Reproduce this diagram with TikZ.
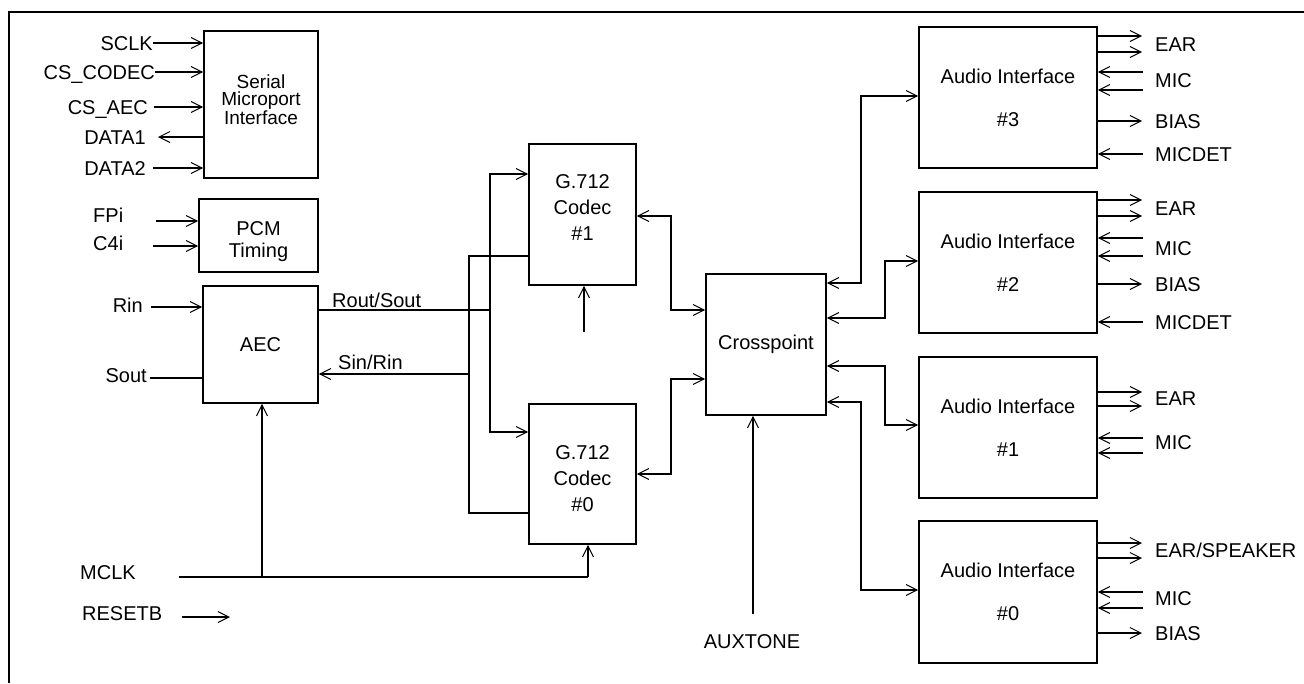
\documentclass[tikz,border=0pt]{standalone}
\usepackage{fontspec}
\setmainfont{Liberation Sans}
\usetikzlibrary{arrows.meta}
\begin{document}
\begin{tikzpicture}[x=1pt,y=-1pt,
  box/.style={draw,line width=1.6pt,inner sep=0pt,align=center},
  intext/.style={inner sep=0pt,align=center},
  lbl/.style={inner sep=0pt,text height=14pt,text depth=0pt,font=\fontsize{20}{24}\selectfont},
  wire/.style={line width=1.5pt},
  arr/.style={wire,-{Straight Barb[length=11pt,width=11pt,line width=1pt]}},
  arrb/.style={wire,{Straight Barb[length=11pt,width=11pt,line width=1pt]}-{Straight Barb[length=11pt,width=11pt,line width=1pt]}}]
\useasboundingbox (0,0) rectangle (1304,683);
\fill[white] (0,0) rectangle (1304,683);
\draw[line width=1.7pt] (9,683) -- (9,12) -- (1304,12);

% blocks
\node[box,minimum width=114pt,minimum height=147pt,
  label={[intext,font=\fontsize{19}{17}\selectfont,yshift=5pt]center:{Serial\\Microport\\Interface}}] (ser) at (261,104.5) {};
\node[box,minimum width=119pt,minimum height=73pt,
  label={[intext,font=\fontsize{20}{22}\selectfont,yshift=-6pt]center:{PCM\\Timing}}] (pcm) at (258.5,235.5) {};
\node[box,minimum width=115pt,minimum height=117pt,font=\fontsize{20}{24}\selectfont] (aec) at (260.5,344.5) {AEC};
\node[box,minimum width=107pt,minimum height=141pt,
  label={[intext,font=\fontsize{20}{26}\selectfont,yshift=7pt]center:{G.712\\Codec\\\#1}}] (cod1) at (582.5,214.5) {};
\node[box,minimum width=107pt,minimum height=140pt,
  label={[intext,font=\fontsize{20}{26}\selectfont,yshift=-5pt]center:{G.712\\Codec\\\#0}}] (cod0) at (582.5,474) {};
\node[box,minimum width=120pt,minimum height=141pt,font=\fontsize{20}{24}\selectfont] (xp) at (766,344.5) {Crosspoint};
\node[box,minimum width=178pt,minimum height=141pt,font=\fontsize{20}{43}\selectfont] (ai3) at (1008,97.5) {Audio Interface\\\#3};
\node[box,minimum width=178pt,minimum height=141pt,font=\fontsize{20}{43}\selectfont] (ai2) at (1008,262.5) {Audio Interface\\\#2};
\node[box,minimum width=178pt,minimum height=141pt,font=\fontsize{20}{43}\selectfont] (ai1) at (1008,427.5) {Audio Interface\\\#1};
\node[box,minimum width=178pt,minimum height=142pt,font=\fontsize{20}{43}\selectfont] (ai0) at (1008,592) {Audio Interface\\\#0};

% left labels
\node[lbl,anchor=east] (sclk) at (153,43) {SCLK};
\node[lbl,anchor=east] (cscodec) at (155,72) {CS\_CODEC};
\node[lbl,anchor=east] (csaec) at (148,107) {CS\_AEC};
\node[lbl,anchor=east] (data1) at (146,137) {DATA1};
\node[lbl,anchor=east] (data2) at (146,168) {DATA2};
\node[lbl,anchor=west] (fpi) at (93,215) {FPi};
\node[lbl,anchor=west] (c4i) at (93,243) {C4i};
\node[lbl,anchor=east] (rin) at (143,305) {Rin};
\node[lbl,anchor=east] (sout) at (147,375) {Sout};
\node[lbl,anchor=west] (mclk) at (80,572) {MCLK};
\node[lbl,anchor=west] (resetb) at (82,613) {RESETB};
\node[lbl,anchor=west] (routsout) at (332,300) {Rout/Sout};
\node[lbl,anchor=west] (sinrin) at (338,362) {Sin/Rin};
\node[lbl] (auxtone) at (752,641) {AUXTONE};

% free ends
\coordinate (csaecS) at (154,107);
\coordinate (data1T) at (158,137);
\coordinate (data2S) at (153,168);
\coordinate (fpiS) at (156,221);
\coordinate (c4iS) at (153,246);
\coordinate (rinS) at (151,307);
\coordinate (soutS) at (150,378);
\coordinate (mclkS) at (179,577);
\coordinate (mclkJ) at (262,577);
\coordinate (mclkE) at (588,577);
\coordinate (resetS) at (182,617);
\coordinate (resetT) at (230,617);
\coordinate (rsJ) at (490,310);
\coordinate (srJ) at (470,374);
\coordinate (c1b) at (584,332);
\coordinate (auxS) at (753,614);

% serial port
\draw[arr] (sclk.east) -- (sclk.east -| ser.west);
\draw[arr] (cscodec.east) -- (cscodec.east -| ser.west);
\draw[arr] (csaecS) -- (csaecS -| ser.west);
\draw[arr] (data1T -| ser.west) -- (data1T);
\draw[arr] (data2S) -- (data2S -| ser.west);
% pcm
\draw[arr] (fpiS) -- (fpiS -| pcm.west);
\draw[arr] (c4iS) -- (c4iS -| pcm.west);
% aec
\draw[arr] (rinS) -- (rinS -| aec.west);
\draw[wire] (soutS) -- (soutS -| aec.west);
\draw[wire] (mclkS) -- (mclkE);
\draw[arr] (mclkE) -- (mclkE |- cod0.south);
\draw[arr] (mclkJ) -- (mclkJ |- aec.south);
\draw[arr] (resetS) -- (resetT);

% codec side
\draw[wire] (rsJ -| aec.east) -- (rsJ);
\draw[arr] (rsJ) |- (cod1.west |- 0,174);
\draw[arr] (rsJ) |- (cod0.west |- 0,432);
\draw[arr] (srJ) -- (srJ -| aec.east);
\draw[wire] (cod1.west |- 0,256) -| (469,513) -- (cod0.west |- 0,513);
\draw[arr] (c1b) -- (c1b |- cod1.south);

% crosspoint
\draw[arrb] (cod1.east |- 0,216) -| (671,310) -- (xp.west |- 0,310);
\draw[arrb] (cod0.east |- 0,474) -| (671,379) -- (xp.west |- 0,379);
\draw[arr] (auxS) -- (auxS |- xp.south);
\draw[arrb] (xp.east |- 0,283) -| (861,96) -- (ai3.west |- 0,96);
\draw[arrb] (xp.east |- 0,318) -| (885,261) -- (ai2.west |- 0,261);
\draw[arrb] (xp.east |- 0,366) -| (885,425) -- (ai1.west |- 0,425);
\draw[arrb] (xp.east |- 0,402) -| (861,590) -- (ai0.west |- 0,590);

% audio interface 3
\node[lbl,anchor=west] (ear3) at (1155,44) {EAR};
\node[lbl,anchor=west] (mic3) at (1155,80) {MIC};
\node[lbl,anchor=west] (bias3) at (1155,121) {BIAS};
\node[lbl,anchor=west] (micdet3) at (1155,154) {MICDET};
\foreach \y in {36,52,121} \draw[arr] (ai3.east |- 0,\y) -- (1142,\y);
\foreach \y in {72,90,154} \draw[arr] (1143,\y) -- (ai3.east |- 0,\y);
% audio interface 2
\node[lbl,anchor=west] (ear2) at (1155,208) {EAR};
\node[lbl,anchor=west] (mic2) at (1155,248) {MIC};
\node[lbl,anchor=west] (bias2) at (1155,284) {BIAS};
\node[lbl,anchor=west] (micdet2) at (1155,322) {MICDET};
\foreach \y in {200,216,284} \draw[arr] (ai2.east |- 0,\y) -- (1142,\y);
\foreach \y in {238,256,322} \draw[arr] (1143,\y) -- (ai2.east |- 0,\y);
% audio interface 1
\node[lbl,anchor=west] (ear1) at (1155,398) {EAR};
\node[lbl,anchor=west] (mic1) at (1155,442) {MIC};
\foreach \y in {392,406} \draw[arr] (ai1.east |- 0,\y) -- (1142,\y);
\foreach \y in {438,453} \draw[arr] (1143,\y) -- (ai1.east |- 0,\y);
% audio interface 0
\node[lbl,anchor=west] (ear0) at (1155,550) {EAR/SPEAKER};
\node[lbl,anchor=west] (mic0) at (1155,598) {MIC};
\node[lbl,anchor=west] (bias0) at (1155,633) {BIAS};
\foreach \y in {543,558,633} \draw[arr] (ai0.east |- 0,\y) -- (1142,\y);
\foreach \y in {592,608} \draw[arr] (1143,\y) -- (ai0.east |- 0,\y);
\end{tikzpicture}
\end{document}
